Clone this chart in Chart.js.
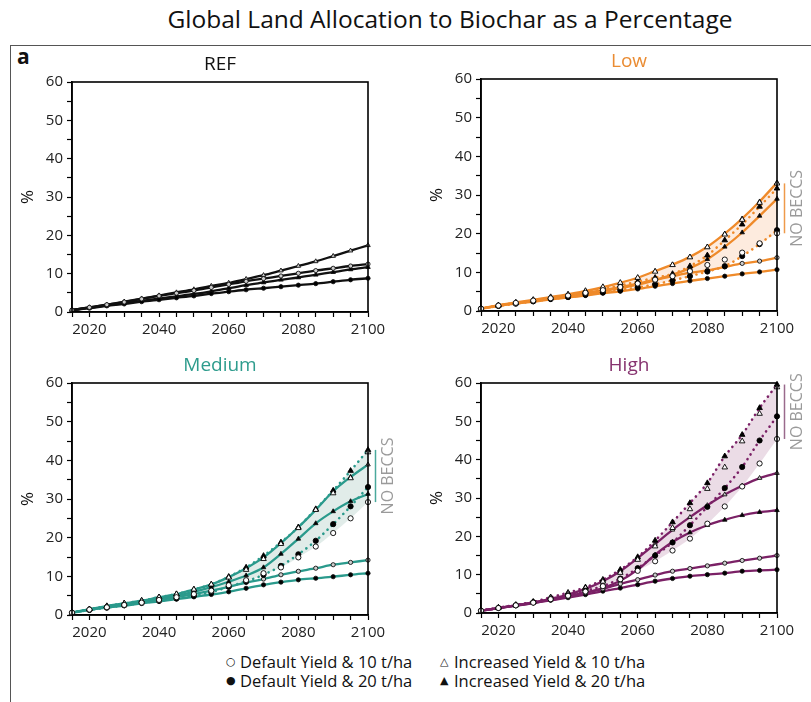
<!DOCTYPE html>
<html>
<head>
<meta charset="utf-8">
<script src="https://cdn.jsdelivr.net/npm/chart.js@4.4.1/dist/chart.umd.min.js"></script>
<style>
  body { margin:0; width:811px; height:702px; background:#fff; position:relative; overflow:hidden; font-family:"Open Sans", sans-serif; }
  #title { position:absolute; left:0; width:900px; top:2px; text-align:center; font-size:24.5px; color:#111; }
  #frame { position:absolute; left:10px; top:45px; width:820px; height:680px; border-top:1.5px solid #555; border-left:1.5px solid #555; }
  #tag { position:absolute; left:17px; top:42px; font-size:21px; font-weight:bold; color:#111; }
  canvas { position:absolute; }
  .leg { position:absolute; font-size:16.5px; color:#111; white-space:nowrap; }
  .leg div { height:19px; line-height:19px; }
  .leg .sym { font-family:"DejaVu Sans", sans-serif; font-size:11px; display:inline-block; width:14px; line-height:19px; vertical-align:top; }
</style>
</head>
<body>
<div id="title">Global Land Allocation to Biochar as a Percentage</div>
<div id="frame"></div>
<div id="tag">a</div>
<canvas id="cRef"></canvas>
<canvas id="cLow"></canvas>
<canvas id="cMed"></canvas>
<canvas id="cHigh"></canvas>
<div class="leg" style="left:226px; top:652px;"><div><span class="sym">○</span>Default Yield &amp; 10 t/ha</div><div><span class="sym">●</span>Default Yield &amp; 20 t/ha</div></div>
<div class="leg" style="left:440px; top:652px;"><div><span class="sym">△</span>Increased Yield &amp; 10 t/ha</div><div><span class="sym">▲</span>Increased Yield &amp; 20 t/ha</div></div>
<script>
// Years on the x axis
const years = [2015,2020,2025,2030,2035,2040,2045,2050,2055,2060,2065,2070,2075,2080,2085,2090,2095,2100];
const xTickLabels = [2020, 2040, 2060, 2080, 2100];
const yTickLabels = [0, 10, 20, 30, 40, 50, 60];

// REF scenario (%)
const refDef10 = [0.5,1.2,1.9,2.6,3.4,4.2,4.9,5.6,6.4,7.2,8.0,8.7,9.4,10.1,10.8,11.4,12.0,12.5];
const refDef20 = [0.5,1.0,1.6,2.1,2.7,3.2,3.7,4.2,4.8,5.3,5.8,6.2,6.6,7.0,7.4,7.9,8.4,8.8];
const refInc10 = [0.5,1.2,1.9,2.7,3.5,4.3,5.1,5.9,6.8,7.6,8.6,9.6,10.8,12.0,13.2,14.6,16.0,17.4];
const refInc20 = [0.5,1.1,1.7,2.3,2.9,3.5,4.1,4.7,5.4,6.2,7.0,7.7,8.4,9.0,9.7,10.4,11.1,11.7];

// Low scenario (%), with BECCS
const lowDef10 = [0.6,1.4,2.1,2.7,3.3,4.0,4.7,5.4,6.2,7.1,8.1,9.0,9.9,10.5,11.4,12.3,12.9,13.8];
const lowDef20 = [0.6,1.3,1.9,2.4,3.0,3.5,4.0,4.6,5.1,5.7,6.4,7.1,7.8,8.4,9.0,9.6,10.1,10.7];
const lowInc10 = [0.6,1.5,2.2,2.9,3.6,4.3,5.2,6.2,7.3,8.6,10.3,12.0,14.0,16.6,20.0,23.9,28.3,33.2];
const lowInc20 = [0.6,1.4,2.0,2.6,3.2,3.8,4.4,5.1,5.9,6.8,8.0,9.4,11.1,13.4,16.6,20.3,24.6,29.0];
// Low scenario (%), no BECCS
const lowDef10NB = [0.6,1.4,2.1,2.7,3.3,4.0,4.7,5.4,6.2,7.1,8.1,9.0,10.3,11.9,13.3,15.1,17.5,20.1];
const lowDef20NB = [0.6,1.3,1.9,2.5,3.1,3.6,4.2,4.8,5.4,6.1,6.9,7.9,9.0,10.2,11.6,14.2,17.3,20.9];
const lowInc10NB = [0.6,1.5,2.2,2.9,3.6,4.3,5.2,6.2,7.3,8.6,10.2,11.9,13.9,16.5,19.8,23.6,28.0,33.0];
const lowInc20NB = [0.6,1.4,2.1,2.7,3.4,4.1,4.9,5.7,6.6,7.6,8.6,9.6,11.6,14.4,18.3,22.4,27.0,31.7];

// Medium scenario (%), with BECCS
const medDef10 = [0.6,1.4,2.0,2.6,3.2,3.9,4.6,5.4,6.3,7.3,8.4,9.3,10.4,11.3,12.1,13.0,13.6,14.2];
const medDef20 = [0.6,1.3,1.9,2.4,3.0,3.5,4.1,4.7,5.3,6.0,6.9,7.8,8.5,9.1,9.5,9.9,10.4,10.8];
const medInc10 = [0.6,1.5,2.3,3.0,3.7,4.6,5.4,6.6,7.9,9.8,12.1,14.9,18.6,22.7,27.2,32.0,35.7,38.9];
const medInc20 = [0.6,1.4,2.1,2.7,3.4,4.2,5.0,6.0,7.2,8.6,10.2,12.3,15.8,19.7,23.7,26.8,29.4,31.3];
// Medium scenario (%), no BECCS
const medDef10NB = [0.6,1.4,2.0,2.6,3.2,3.9,4.6,5.4,6.3,7.7,9.0,10.8,12.3,14.9,17.7,21.2,25.0,29.2];
const medDef20NB = [0.6,1.3,1.9,2.5,3.1,3.7,4.3,5.0,5.9,7.3,8.7,10.4,12.7,15.7,19.2,23.5,28.1,33.1];
const medInc10NB = [0.6,1.5,2.3,3.0,3.7,4.6,5.4,6.6,7.9,9.7,11.7,14.5,18.4,22.5,27.2,31.5,35.4,42.1];
const medInc20NB = [0.6,1.5,2.3,3.0,3.7,4.6,5.4,6.6,7.9,9.9,12.3,15.3,18.8,22.7,27.4,32.2,37.3,42.7];

// High scenario (%), with BECCS
const hiDef10 = [0.6,1.3,2.0,2.7,3.5,4.4,5.3,6.3,7.6,8.7,9.9,10.9,11.6,12.3,13.0,13.7,14.3,15.0];
const hiDef20 = [0.6,1.3,1.9,2.6,3.3,4.0,4.8,5.7,6.5,7.4,8.3,9.0,9.6,10.0,10.4,10.9,11.1,11.3];
const hiInc10 = [0.6,1.3,2.0,2.8,3.7,4.8,6.3,8.3,10.9,14.3,18.0,21.7,25.0,28.1,30.9,33.2,35.2,36.5];
const hiInc20 = [0.6,1.3,1.9,2.6,3.4,4.3,5.3,6.5,8.4,11.3,15.2,18.5,21.0,22.9,24.3,25.5,26.3,26.8];
// High scenario (%), no BECCS
const hiDef10NB = [0.6,1.3,2.0,2.7,3.6,4.5,5.6,7.0,8.8,11.0,13.5,16.3,19.4,23.3,27.8,33.0,39.0,45.4];
const hiDef20NB = [0.6,1.3,2.0,2.8,3.7,4.6,5.8,7.0,9.0,11.7,15.0,18.4,22.9,27.7,32.6,38.1,45.0,51.3];
const hiInc10NB = [0.6,1.4,2.1,2.9,4.0,5.1,6.5,8.2,10.5,13.9,17.4,22.2,27.1,32.4,38.0,44.8,52.0,58.9];
const hiInc20NB = [0.6,1.4,2.1,2.9,4.1,5.3,6.7,8.7,11.3,14.6,18.9,23.7,28.7,33.9,40.9,46.5,53.5,59.6];

// Marker style per series: [default 10, default 20, increased 10, increased 20]
const markerStyles = [
  { style: 'circle',   open: true  },
  { style: 'circle',   open: false },
  { style: 'triangle', open: true  },
  { style: 'triangle', open: false }
];

const FONT = '"Open Sans", sans-serif';

const toPoints = arr => years.map((x, i) => ({ x, y: arr[i] }));

const panelDecor = {
  id: 'panelDecor',
  afterDraw(chart, args, opts) {
    const { ctx, chartArea: a, scales } = chart;
    ctx.save();
    // plot frame
    ctx.strokeStyle = '#000';
    ctx.lineWidth = 1.6;
    ctx.strokeRect(a.left, a.top, a.right - a.left, a.bottom - a.top);
    // panel title
    ctx.fillStyle = opts.titleColor;
    ctx.font = '19px ' + FONT;
    ctx.textAlign = 'center';
    ctx.textBaseline = 'middle';
    ctx.fillText(opts.title, (a.left + a.right) / 2, a.top - 17);
    // y axis unit
    ctx.save();
    ctx.translate(a.left - 44, (a.top + a.bottom) / 2);
    ctx.rotate(-Math.PI / 2);
    ctx.fillStyle = '#111';
    ctx.font = '17px ' + FONT;
    ctx.fillText('%', 0, 0);
    ctx.restore();
    // range of the no-BECCS runs at the final year
    if (opts.nbEnds) {
      const vMax = Math.max(...opts.nbEnds), vMin = Math.min(...opts.nbEnds);
      const y1 = scales.y.getPixelForValue(vMax), y2 = scales.y.getPixelForValue(vMin);
      ctx.strokeStyle = opts.barColor;
      ctx.lineWidth = 1.5;
      ctx.beginPath();
      ctx.moveTo(a.right + 7.5, y1);
      ctx.lineTo(a.right + 7.5, y2);
      ctx.stroke();
      ctx.save();
      ctx.translate(a.right + 20, (y1 + y2) / 2);
      ctx.rotate(-Math.PI / 2);
      ctx.fillStyle = '#9a9a9a';
      ctx.font = '16px ' + FONT;
      ctx.textAlign = 'center';
      ctx.textBaseline = 'middle';
      ctx.fillText('NO BECCS', 0, 0);
      ctx.restore();
    }
    ctx.restore();
  }
};

function makePanel(cfg) {
  const canvas = document.getElementById(cfg.id);
  const plotW = cfg.plotR - cfg.plotL, plotH = cfg.plotB - cfg.plotT;
  const W = plotW + 72 + 34, H = plotH + 44 + 30;
  canvas.width = W; canvas.height = H;
  canvas.style.left = (cfg.plotL - 72) + 'px';
  canvas.style.top = (cfg.plotT - 44) + 'px';

  const datasets = [];
  // no-BECCS runs: black markers, dotted trend for the 20 t/ha runs
  if (cfg.nb) {
    cfg.nb.forEach((arr, k) => {
      const m = markerStyles[k];
      datasets.push({
        data: toPoints(arr),
        showLine: !m.open,
        borderColor: cfg.color,
        borderWidth: 2.6,
        borderDash: [0.1, 5.5],
        borderCapStyle: 'round',
        pointStyle: m.style,
        pointRadius: m.style === 'triangle' ? 3.2 : 2.6,
        pointBackgroundColor: m.open ? '#fff' : '#000',
        pointBorderColor: '#000',
        pointBorderWidth: 0.9,
        fill: false,
        clip: false,
        order: 0
      });
    });
  }
  // runs with BECCS: solid lines with small markers
  cfg.solid.forEach((arr, k) => {
    const m = markerStyles[k];
    datasets.push({
      data: toPoints(arr),
      borderColor: cfg.color,
      borderWidth: 2.3,
      pointStyle: m.style,
      pointRadius: m.style === 'triangle' ? 2.6 : 2.1,
      pointBackgroundColor: m.open ? '#ccc' : '#000',
      pointBorderColor: '#111',
      pointBorderWidth: 0.9,
      fill: false,
      clip: false,
      order: 1
    });
  });
  // shaded envelope of the no-BECCS runs
  if (cfg.nb) {
    const hi = years.map((_, i) => Math.max(...cfg.nb.map(s => s[i])));
    const lo = years.map((_, i) => Math.min(...cfg.nb.map(s => s[i])));
    datasets.push({
      data: toPoints(hi), borderWidth: 0, pointRadius: 0,
      backgroundColor: cfg.band, fill: '+1', order: 2, clip: false
    });
    datasets.push({
      data: toPoints(lo), borderWidth: 0, pointRadius: 0, fill: false, order: 2, clip: false
    });
  }

  new Chart(canvas, {
    type: 'line',
    data: { datasets },
    options: {
      responsive: false,
      animation: false,
      events: [],
      layout: { padding: { left: 32, top: 44, right: 34, bottom: 4 } },
      elements: { line: { tension: 0.3 } },
      plugins: {
        legend: { display: false },
        tooltip: { enabled: false },
        filler: { drawTime: 'beforeDatasetsDraw' },
        panelDecor: {
          title: cfg.title, titleColor: cfg.titleColor, barColor: cfg.barColor,
          nbEnds: cfg.nb ? cfg.nb.map(s => s[s.length - 1]) : null
        }
      },
      scales: {
        x: {
          type: 'linear', min: 2015, max: 2100,
          afterFit: s => { s.height = 26; },
          ticks: {
            stepSize: 5, autoSkip: false, maxRotation: 0, padding: 4,
            color: '#222', font: { family: FONT, size: 15 },
            callback: v => xTickLabels.includes(v) ? String(v) : ''
          },
          grid: { drawOnChartArea: false, drawTicks: true, tickLength: 5, tickColor: '#000', tickWidth: 1.2 },
          border: { display: true, color: '#000', width: 1.6 }
        },
        y: {
          min: 0, max: 60,
          afterFit: s => { s.width = 40; },
          ticks: {
            stepSize: 5, autoSkip: false, padding: 4,
            color: '#222', font: { family: FONT, size: 15 },
            callback: v => yTickLabels.includes(v) ? String(v) : ''
          },
          grid: { drawOnChartArea: false, drawTicks: true, tickLength: 5, tickColor: '#000', tickWidth: 1.2 },
          border: { display: true, color: '#000', width: 1.6 }
        }
      }
    },
    plugins: [panelDecor]
  });
}

makePanel({ id: 'cRef', title: 'REF', titleColor: '#111', color: '#111',
  plotL: 72, plotT: 82, plotR: 368, plotB: 312,
  solid: [refDef10, refDef20, refInc10, refInc20] });

makePanel({ id: 'cLow', title: 'Low', titleColor: '#EA8C33', color: '#EF8A2A',
  band: 'rgba(245,165,105,0.22)', barColor: '#EF9A4A',
  plotL: 481, plotT: 79, plotR: 777, plotB: 311,
  solid: [lowDef10, lowDef20, lowInc10, lowInc20],
  nb: [lowDef10NB, lowDef20NB, lowInc10NB, lowInc20NB] });

makePanel({ id: 'cMed', title: 'Medium', titleColor: '#2E9C8D', color: '#2A9A8C',
  band: 'rgba(120,170,155,0.22)', barColor: '#4AA99C',
  plotL: 72, plotT: 383, plotR: 368, plotB: 615,
  solid: [medDef10, medDef20, medInc10, medInc20],
  nb: [medDef10NB, medDef20NB, medInc10NB, medInc20NB] });

makePanel({ id: 'cHigh', title: 'High', titleColor: '#86336F', color: '#7B2166',
  band: 'rgba(165,95,140,0.22)', barColor: '#9A6A8C',
  plotL: 481, plotT: 383, plotR: 777, plotB: 613,
  solid: [hiDef10, hiDef20, hiInc10, hiInc20],
  nb: [hiDef10NB, hiDef20NB, hiInc10NB, hiInc20NB] });
</script>
</body>
</html>
